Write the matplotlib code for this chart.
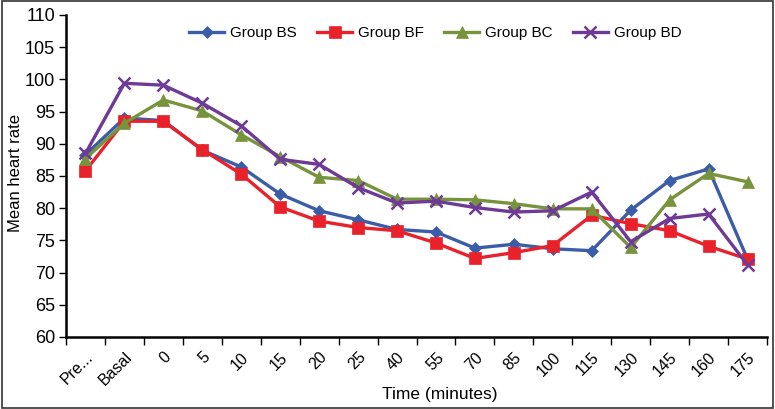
import matplotlib
matplotlib.use("Agg")
import matplotlib.pyplot as plt
from matplotlib.patches import Rectangle

plt.rcParams["font.family"] = ["Liberation Sans", "DejaVu Sans"]

# 时间点（分类轴）
time_labels = ["Pre...", "Basal", "0", "5", "10", "15", "20", "25", "40", "55",
               "70", "85", "100", "115", "130", "145", "160", "175"]

# 各组平均心率
group_bs = [88.3, 94.0, 93.6, 89.0, 86.4, 82.2, 79.6, 78.2, 76.7, 76.3,
            73.8, 74.4, 73.7, 73.4, 79.7, 84.3, 86.1, 72.1]
group_bf = [85.8, 93.5, 93.5, 89.1, 85.3, 80.2, 78.0, 77.0, 76.5, 74.6,
            72.2, 73.1, 74.2, 78.9, 77.6, 76.5, 74.1, 72.1]
group_bc = [87.7, 93.2, 96.8, 95.1, 91.4, 88.0, 84.8, 84.3, 81.4, 81.4,
            81.3, 80.7, 79.9, 79.9, 73.9, 81.3, 85.4, 84.1]
group_bd = [88.5, 99.4, 99.1, 96.3, 92.8, 87.6, 86.8, 83.2, 80.8, 81.1,
            80.1, 79.4, 79.6, 82.5, 74.8, 78.4, 79.1, 71.2]

series = [
    ("Group BS", group_bs, "#3B5CA6", "D", 6.5),
    ("Group BF", group_bf, "#E8212B", "s", 8),
    ("Group BC", group_bc, "#77933C", "^", 8),
    ("Group BD", group_bd, "#6E3A96", "x", 8.5),
]

fig = plt.figure(figsize=(7.75, 4.09), dpi=100)
ax = fig.add_axes([66 / 775, 1 - 337 / 409, 701 / 775, 322 / 409])

x = list(range(len(time_labels)))
for name, vals, color, marker, ms in series:
    ax.plot(x, vals, color=color, lw=2.4, marker=marker, markersize=ms,
            markeredgewidth=1.8 if marker == "x" else 0.5,
            markeredgecolor=color, label=name)

ax.set_xlim(-0.5, len(time_labels) - 0.5)
ax.set_ylim(60, 110)
ax.set_yticks(range(60, 111, 5))
ax.tick_params(axis="y", labelsize=13, length=5, width=1, direction="out", pad=3)

# 刻度线位于类别之间
ax.set_xticks([i - 0.5 for i in range(len(time_labels) + 1)])
ax.set_xticklabels([])
ax.set_xticks(x, minor=True)
ax.set_xticklabels(time_labels, minor=True, rotation=45, ha="right",
                   va="top", rotation_mode="anchor", fontsize=11.5)
ax.tick_params(axis="x", which="major", length=6, width=1, direction="out")
ax.tick_params(axis="x", which="minor", length=0, pad=9)

for side in ["top", "right"]:
    ax.spines[side].set_visible(False)
for side in ["left", "bottom"]:
    ax.spines[side].set_linewidth(1.8)

ax.set_ylabel("Mean heart rate", fontsize=12)
ax.yaxis.set_label_coords(-0.061, 0.509)
ax.set_xlabel("Time (minutes)", fontsize=12.5)
ax.xaxis.set_label_coords(0.533, -0.155)

ax.legend(loc="center", bbox_to_anchor=(0.527, 0.944), ncol=4, frameon=False,
          fontsize=11, handlelength=2.3, handletextpad=0.4, columnspacing=1.3)

# 外边框
fig.patches.append(Rectangle((0.002, 0.003), 0.995, 0.994, transform=fig.transFigure,
                             fill=False, edgecolor="#333333", lw=1.2))

fig.savefig("out.png", dpi=100)
